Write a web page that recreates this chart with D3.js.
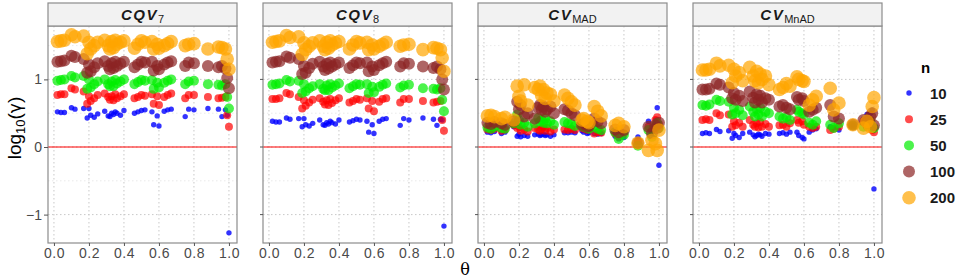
<!DOCTYPE html>
<html>
<head>
<meta charset="utf-8">
<script src="https://cdn.jsdelivr.net/npm/d3@7"></script>
<style>
  body { margin: 0; background: #fff; }
  text { font-family: "Liberation Sans", Arial, sans-serif; }
</style>
</head>
<body>
<svg id="drawing_region"></svg>
<script>
// theta values (x) shared by every panel
const theta = [0.02,0.04,0.06,0.10,0.12,0.17,0.19,0.20,0.21,0.23,0.25,0.29,0.31,0.32,0.33,0.34,0.35,0.36,0.38,0.40,
               0.46,0.48,0.50,0.52,0.56,0.57,0.59,0.60,0.63,0.65,0.67,0.75,0.77,0.80,0.88,0.94,0.96,0.98,0.99,1.00];

const nLevels = ["10", "25", "50", "100", "200"];
const nColors = ["#0000ff", "#ff0000", "#00ee00", "#8b2323", "#ffa500"];
const nRadius = [2.7, 4, 5, 6, 6.8];

const xTicks = [0, 0.2, 0.4, 0.6, 0.8, 1.0];
const yTicks = [-1, 0, 1];

// log10(gamma), panel CQV7
const cqv7_n10  = [0.52,0.51,0.51,0.58,0.56,0.57,0.43,0.57,0.47,0.44,0.49,0.53,0.46,0.45,0.50,0.48,0.52,0.50,0.47,0.54,0.50,0.52,0.54,0.55,0.52,0.33,0.46,0.31,0.53,0.55,0.56,0.45,0.56,0.55,0.57,0.56,0.45,0.55,0.47,-1.27];
const cqv7_n25  = [0.77,0.78,0.78,0.87,0.85,0.82,0.64,0.75,0.68,0.72,0.77,0.79,0.74,0.70,0.75,0.69,0.78,0.72,0.75,0.78,0.72,0.74,0.77,0.76,0.78,0.64,0.75,0.62,0.74,0.77,0.79,0.72,0.77,0.77,0.74,0.72,0.73,0.74,0.47,0.30];
const cqv7_n50  = [0.98,0.99,1.00,1.05,1.03,1.05,0.86,1.00,0.88,0.93,0.97,1.00,0.93,0.90,0.97,0.90,0.99,0.94,0.97,1.00,0.93,0.96,0.99,0.98,0.99,0.86,0.95,0.88,0.95,0.98,1.00,0.93,0.97,0.98,0.93,0.92,0.91,0.93,0.74,0.57];
const cqv7_n100 = [1.26,1.27,1.28,1.35,1.33,1.30,1.10,1.22,1.12,1.18,1.24,1.27,1.20,1.15,1.24,1.17,1.26,1.20,1.23,1.26,1.18,1.22,1.26,1.25,1.26,1.13,1.20,1.15,1.22,1.25,1.27,1.20,1.25,1.24,1.20,1.18,1.20,1.16,1.02,0.87];
const cqv7_n200 = [1.56,1.57,1.58,1.66,1.63,1.64,1.38,1.55,1.45,1.50,1.55,1.58,1.50,1.45,1.56,1.47,1.58,1.52,1.55,1.57,1.46,1.52,1.57,1.55,1.56,1.45,1.52,1.46,1.50,1.53,1.56,1.50,1.52,1.53,1.45,1.48,1.47,1.45,1.30,1.15];

// panel CQV8
const cqv8_n10  = [0.38,0.37,0.37,0.43,0.41,0.42,0.30,0.42,0.33,0.31,0.35,0.40,0.33,0.32,0.36,0.34,0.38,0.36,0.34,0.40,0.37,0.39,0.41,0.40,0.38,0.22,0.33,0.20,0.38,0.41,0.42,0.32,0.42,0.40,0.43,0.41,0.32,0.41,0.40,-1.17];
const cqv8_n25  = [0.71,0.71,0.72,0.80,0.78,0.74,0.57,0.69,0.61,0.66,0.70,0.72,0.67,0.63,0.69,0.62,0.71,0.65,0.69,0.72,0.66,0.68,0.71,0.70,0.72,0.57,0.68,0.53,0.67,0.71,0.72,0.66,0.71,0.71,0.68,0.66,0.67,0.68,0.40,0.24];
const cqv8_n50  = [0.92,0.93,0.94,0.99,0.97,0.98,0.80,0.93,0.82,0.87,0.90,0.93,0.86,0.84,0.91,0.84,0.93,0.88,0.91,0.94,0.87,0.90,0.93,0.92,0.93,0.80,0.89,0.81,0.89,0.92,0.94,0.88,0.91,0.92,0.87,0.86,0.85,0.87,0.70,0.53];
const cqv8_n100 = [1.25,1.26,1.27,1.34,1.32,1.30,1.08,1.20,1.10,1.17,1.23,1.26,1.19,1.14,1.23,1.16,1.25,1.19,1.22,1.25,1.17,1.21,1.25,1.24,1.25,1.12,1.19,1.14,1.21,1.24,1.26,1.19,1.24,1.23,1.19,1.17,1.19,1.15,1.00,0.85];
const cqv8_n200 = [1.55,1.56,1.57,1.65,1.62,1.63,1.37,1.54,1.44,1.49,1.54,1.57,1.49,1.44,1.55,1.46,1.57,1.51,1.54,1.56,1.45,1.51,1.56,1.54,1.55,1.44,1.51,1.45,1.49,1.52,1.55,1.49,1.51,1.52,1.44,1.47,1.46,1.44,1.32,1.12];

// panel CV_MAD
const cvmad_n10  = [0.22,0.21,0.23,0.20,0.22,0.30,0.16,0.19,0.15,0.17,0.16,0.18,0.19,0.17,0.18,0.19,0.17,0.18,0.16,0.18,0.21,0.21,0.22,0.21,0.24,0.22,0.20,0.21,0.20,0.19,0.20,0.16,0.12,0.14,0.15,0.38,0.20,0.40,0.58,-0.27];
const cvmad_n25  = [0.26,0.25,0.27,0.24,0.26,0.33,0.28,0.30,0.24,0.26,0.23,0.28,0.26,0.24,0.27,0.30,0.24,0.28,0.23,0.26,0.26,0.25,0.27,0.25,0.29,0.27,0.25,0.27,0.20,0.22,0.21,0.20,0.15,0.20,0.08,0.30,0.26,0.40,0.44,0.34];
const cvmad_n50  = [0.29,0.27,0.30,0.28,0.27,0.35,0.48,0.40,0.33,0.36,0.30,0.35,0.43,0.38,0.40,0.36,0.42,0.35,0.38,0.33,0.37,0.35,0.34,0.31,0.33,0.30,0.28,0.27,0.30,0.27,0.25,0.22,0.12,0.18,0.02,0.25,0.15,0.30,0.35,0.28];
const cvmad_n100 = [0.36,0.34,0.37,0.35,0.33,0.38,0.67,0.56,0.62,0.45,0.50,0.42,0.58,0.62,0.55,0.60,0.52,0.56,0.60,0.50,0.56,0.54,0.50,0.47,0.33,0.35,0.30,0.31,0.42,0.38,0.35,0.26,0.22,0.25,0.06,0.30,0.20,0.32,0.28,0.36];
const cvmad_n200 = [0.46,0.47,0.45,0.42,0.44,0.40,0.90,0.75,0.68,0.92,0.62,0.88,0.85,0.90,0.76,0.85,0.72,0.80,0.78,0.68,0.77,0.72,0.67,0.62,0.40,0.42,0.38,0.36,0.60,0.53,0.46,0.32,0.35,0.30,0.06,-0.05,0.10,0.05,-0.05,0.25];

// panel CV_MnAD
const cvmnad_n10  = [0.20,0.21,0.20,0.26,0.23,0.24,0.13,0.20,0.17,0.14,0.20,0.22,0.18,0.15,0.17,0.19,0.18,0.16,0.20,0.19,0.20,0.21,0.19,0.22,0.22,0.17,0.14,0.12,0.22,0.25,0.27,0.30,0.28,0.25,0.32,0.42,0.48,0.50,0.55,-0.62];
const cvmnad_n25  = [0.40,0.41,0.40,0.50,0.47,0.48,0.30,0.38,0.32,0.36,0.30,0.40,0.33,0.30,0.35,0.29,0.37,0.30,0.34,0.30,0.32,0.33,0.30,0.35,0.40,0.36,0.38,0.33,0.30,0.28,0.30,0.25,0.27,0.30,0.32,0.38,0.30,0.40,0.25,0.22];
const cvmnad_n50  = [0.62,0.61,0.63,0.70,0.68,0.67,0.48,0.58,0.50,0.55,0.47,0.60,0.52,0.45,0.56,0.48,0.58,0.45,0.52,0.50,0.45,0.42,0.44,0.40,0.55,0.52,0.50,0.48,0.36,0.33,0.38,0.33,0.28,0.35,0.32,0.30,0.35,0.38,0.30,0.28];
const cvmnad_n100 = [0.85,0.85,0.86,0.94,0.92,0.88,0.72,0.80,0.70,0.76,0.68,0.82,0.73,0.66,0.78,0.70,0.76,0.66,0.72,0.70,0.60,0.62,0.58,0.56,0.74,0.70,0.72,0.68,0.52,0.55,0.58,0.62,0.45,0.42,0.33,0.40,0.36,0.45,0.50,0.32];
const cvmnad_n200 = [1.14,1.14,1.15,1.24,1.20,1.21,0.95,1.15,1.05,1.10,0.98,1.18,1.05,0.98,1.12,0.95,1.08,1.00,1.05,0.92,0.85,0.88,0.94,0.90,1.04,1.00,0.98,0.97,0.62,0.70,0.75,0.87,0.55,0.65,0.33,0.28,0.38,0.30,0.60,0.73];

const panels = [
  { main: "CQV", sub: "7",    series: [cqv7_n10, cqv7_n25, cqv7_n50, cqv7_n100, cqv7_n200] },
  { main: "CQV", sub: "8",    series: [cqv8_n10, cqv8_n25, cqv8_n50, cqv8_n100, cqv8_n200] },
  { main: "CV",  sub: "MAD",  series: [cvmad_n10, cvmad_n25, cvmad_n50, cvmad_n100, cvmad_n200] },
  { main: "CV",  sub: "MnAD", series: [cvmnad_n10, cvmnad_n25, cvmnad_n50, cvmnad_n100, cvmnad_n200] }
];

const config = {
  width: 957, height: 278,
  panelLeft: [48, 263, 478, 693],
  panelWidth: 189,
  stripTop: 3, panelTop: 26, panelBottom: 243
};

const svg = d3.select('#drawing_region')
  .attr('width', config.width)
  .attr('height', config.height);

const innerH = config.panelBottom - config.panelTop;

const xscale = d3.scaleLinear().domain([-0.034, 1.046]).range([0, config.panelWidth]);
const yscale = d3.scaleLinear().domain([-1.42, 1.79]).range([innerH, 0]);

panels.forEach((p, i) => {
  const g = svg.append('g')
    .attr('transform', `translate(${config.panelLeft[i]}, ${config.panelTop})`);

  // minor grid
  g.selectAll('.hminor').data([-0.5, 0.5, 1.5]).join('line')
    .attr('x1', 0).attr('x2', config.panelWidth)
    .attr('y1', d => yscale(d)).attr('y2', d => yscale(d))
    .attr('stroke', '#e4e4e4').attr('stroke-width', 0.8)
    .attr('stroke-dasharray', '1.5,2.5');

  // major grid
  g.selectAll('.vgrid').data(xTicks).join('line')
    .attr('x1', d => xscale(d)).attr('x2', d => xscale(d))
    .attr('y1', 0).attr('y2', innerH)
    .attr('stroke', '#c8c8c8').attr('stroke-width', 1)
    .attr('stroke-dasharray', '1.5,2.5');
  g.selectAll('.hgrid').data(yTicks).join('line')
    .attr('x1', 0).attr('x2', config.panelWidth)
    .attr('y1', d => yscale(d)).attr('y2', d => yscale(d))
    .attr('stroke', '#c8c8c8').attr('stroke-width', 1)
    .attr('stroke-dasharray', '1.5,2.5');

  // reference line at 0
  g.append('line')
    .attr('x1', 0).attr('x2', config.panelWidth)
    .attr('y1', yscale(0)).attr('y2', yscale(0))
    .attr('stroke', '#ff0000').attr('stroke-width', 1);

  // points, small n first
  p.series.forEach((vals, k) => {
    g.append('g').selectAll('circle')
      .data(vals.map((v, j) => ({ x: theta[j], y: v })))
      .join('circle')
      .attr('cx', d => xscale(d.x))
      .attr('cy', d => yscale(d.y))
      .attr('r', nRadius[k])
      .attr('fill', nColors[k])
      .attr('fill-opacity', k === 0 ? 0.8 : 0.7);
  });

  // panel border
  g.append('rect')
    .attr('x', 0).attr('y', 0)
    .attr('width', config.panelWidth).attr('height', innerH)
    .attr('fill', 'none').attr('stroke', '#8c8c8c').attr('stroke-width', 1.2);

  // strip
  svg.append('rect')
    .attr('x', config.panelLeft[i]).attr('y', config.stripTop)
    .attr('width', config.panelWidth).attr('height', config.panelTop - config.stripTop)
    .attr('fill', '#f2f2f2').attr('stroke', '#8c8c8c').attr('stroke-width', 1.2);

  const st = svg.append('text')
    .attr('x', config.panelLeft[i] + config.panelWidth / 2)
    .attr('y', 20)
    .attr('text-anchor', 'middle')
    .attr('font-size', 15)
    .attr('fill', '#1a1a1a');
  st.append('tspan').attr('font-weight', 'bold').attr('font-style', 'italic')
    .attr('letter-spacing', 1.5).text(p.main);
  st.append('tspan').attr('font-size', 11).attr('dy', 3).text(p.sub);

  // x axis
  const xaxis = d3.axisBottom(xscale).tickValues(xTicks)
    .tickFormat(d3.format('.1f')).tickSize(3).tickPadding(2);
  const xg = g.append('g').attr('transform', `translate(0, ${innerH})`).call(xaxis);
  xg.select('.domain').remove();
  xg.selectAll('line').attr('stroke', '#555');
  xg.selectAll('text').attr('font-size', 14).attr('fill', '#4a4a4a')
    .attr('letter-spacing', 0.5)
    .attr('font-family', '"Liberation Sans", Arial, sans-serif');

  // y axis on first panel only
  if (i === 0) {
    const yaxis = d3.axisLeft(yscale).tickValues(yTicks)
      .tickFormat(d => d < 0 ? '\u2212' + Math.abs(d) : d).tickSize(4).tickPadding(2);
    const yg = g.append('g').call(yaxis);
    yg.select('.domain').remove();
    yg.selectAll('line').attr('stroke', '#555');
    yg.selectAll('text').attr('font-size', 14).attr('fill', '#4a4a4a')
      .attr('font-family', '"Liberation Sans", Arial, sans-serif');
  } else {
    g.append('g').selectAll('line').data(yTicks).join('line')
      .attr('x1', -3).attr('x2', 0)
      .attr('y1', d => yscale(d)).attr('y2', d => yscale(d))
      .attr('stroke', '#555');
  }
});

// axis titles
svg.append('text')
  .attr('x', 465).attr('y', 275)
  .attr('text-anchor', 'middle')
  .attr('font-size', 16)
  .style('font-family', '"DejaVu Serif", serif')
  .text('\u03b8');

const yt = svg.append('text')
  .attr('transform', 'translate(21, 128) rotate(-90)')
  .attr('text-anchor', 'middle')
  .attr('font-size', 19);
yt.append('tspan').text('log');
yt.append('tspan').attr('font-size', 13).attr('dy', 4).text('10');
yt.append('tspan').attr('dy', -4).text('(');
yt.append('tspan').style('font-family', '"DejaVu Sans", sans-serif').attr('font-size', 17).text('\u03b3');
yt.append('tspan').text(')');

// legend
const legend = svg.append('g');
legend.append('text')
  .attr('x', 921).attr('y', 73)
  .attr('font-size', 15).attr('font-weight', 'bold')
  .text('n');
nLevels.forEach((lab, k) => {
  const cy = 93 + k * 26.2;
  legend.append('circle')
    .attr('cx', 909).attr('cy', cy)
    .attr('r', nRadius[k])
    .attr('fill', nColors[k])
    .attr('fill-opacity', k === 0 ? 0.8 : 0.7);
  legend.append('text')
    .attr('x', 930).attr('y', cy + 5.5)
    .attr('font-size', 15).attr('font-weight', 'bold')
    .attr('fill', '#1a1a1a')
    .text(lab);
});
</script>
</body>
</html>
